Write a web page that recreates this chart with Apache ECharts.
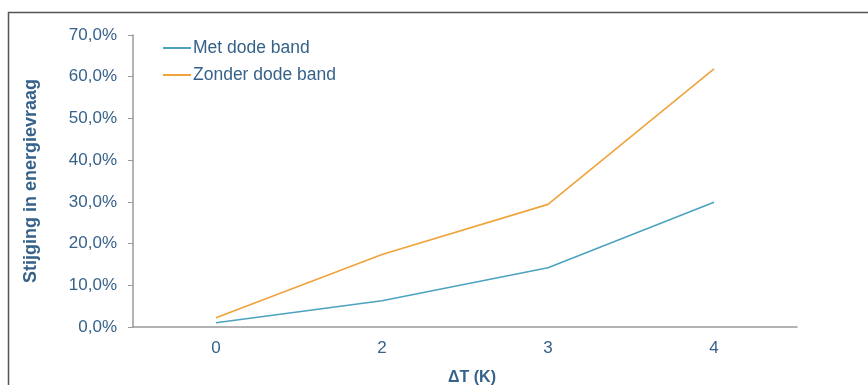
<!DOCTYPE html>
<html><head><meta charset="utf-8">
<script src="https://cdn.jsdelivr.net/npm/echarts@6/dist/echarts.min.js"></script>
<style>html,body{margin:0;padding:0;background:#fff}#c{width:868px;height:385px}</style>
</head><body><div id="c"></div>
<script>
const categories = ['0', '2', '3', '4'];
const metDodeBand = [1.0, 6.3, 14.2, 29.9];
const zonderDodeBand = [2.2, 17.4, 29.4, 61.9];
const seriesNames = ['Met dode band', 'Zonder dode band'];

const txt = '#36628a';
const font = 'Liberation Sans, Arial, sans-serif';
const chart = echarts.init(document.getElementById('c'));
chart.setOption({
  animation: false,
  graphic: [{type:'rect', shape:{x:8.5,y:12.5,width:900,height:420}, style:{fill:'none', stroke:'#555', lineWidth:1.5}, z:-1}],
  legend: {
    orient: 'vertical', left: 158, top: 34, itemGap: 9, itemWidth: 28, itemHeight: 2,
    icon: 'rect',
    textStyle: {color: txt, fontSize: 17.5, fontFamily: font, padding:[0,0,0,-3]},
    data: seriesNames
  },
  grid: {left: 133, top: 35, right: 71, bottom: 58, containLabel: false, outerBoundsMode: 'none'},
  xAxis: {
    type: 'category', data: categories, boundaryGap: true,
    name: 'ΔT (K)', nameLocation: 'middle', nameGap: 43,
    nameTextStyle: {color: txt, fontSize: 16, fontWeight: 'bold', fontFamily: font, padding:[0,0,0,14]},
    axisLine: {lineStyle: {color: '#9a9a9a', width: 1.5}},
    axisTick: {length: 5, lineStyle: {color: '#9a9a9a'}},
    axisLabel: {color: txt, fontSize: 17, fontFamily: font, margin: 13}
  },
  yAxis: {
    type: 'value', min: 0, max: 70, interval: 10,
    name: 'Stijging in energievraag', nameLocation: 'middle', nameGap: 93, nameRotate: 90,
    nameTextStyle: {color: txt, fontSize: 18, fontWeight: 'bold', fontFamily: font},
    axisLine: {show: true, lineStyle: {color: '#9a9a9a', width: 1.5}},
    axisTick: {show: true, length: 5, lineStyle: {color: '#9a9a9a'}},
    splitLine: {show: false},
    axisLabel: {color: txt, fontSize: 17, fontFamily: font, margin: 16,
      formatter: v => v.toFixed(1).replace('.', ',') + '%'}
  },
  series: [
    {name: seriesNames[0], type: 'line', data: metDodeBand, symbol: 'none', color: '#4ba3c0', lineStyle: {width: 1.6}},
    {name: seriesNames[1], type: 'line', data: zonderDodeBand, symbol: 'none', color: '#f0a33a', lineStyle: {width: 1.6}}
  ]
});
</script></body></html>
